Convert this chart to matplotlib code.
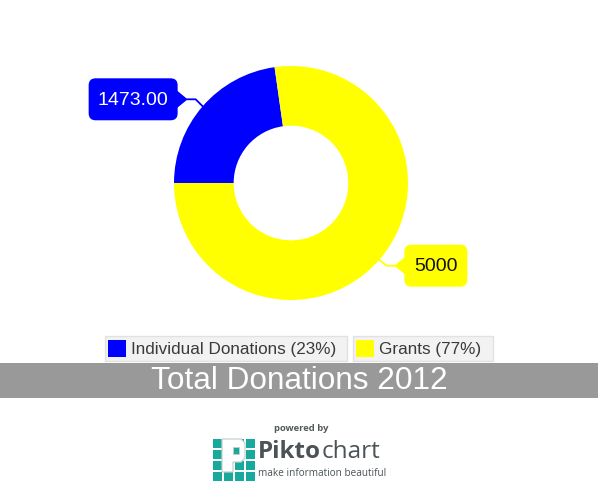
import matplotlib
matplotlib.use("Agg")
import matplotlib.pyplot as plt
from matplotlib.patches import FancyBboxPatch, Polygon, Rectangle
import numpy as np

plt.rcParams["font.family"] = ["Liberation Sans", "DejaVu Sans"]

# data
categories = ["Individual Donations", "Grants"]
values = [1473, 5000]
value_labels = ["1473.00", "5000"]
colors = ["#0000ff", "#ffff00"]
label_text_colors = ["white", "#111111"]
title = "Total Donations 2012"

W, H = 600, 490
fig = plt.figure(figsize=(W / 100, H / 100), dpi=100)
fig.patch.set_facecolor("white")

# donut, centre and radius in pixels
cx, cy, r = 291, 183, 117
pie_ax = fig.add_axes([(cx - r) / W, (H - cy - r) / H, 2 * r / W, 2 * r / H])
wedges, _ = pie_ax.pie(values, colors=colors, startangle=180, counterclock=False,
                       radius=1.0, wedgeprops=dict(width=0.51, linewidth=0))
pie_ax.set_xlim(-1, 1)
pie_ax.set_ylim(-1, 1)
pie_ax.set_aspect("equal")
pie_ax.axis("off")

# overlay in pixel coordinates
ov = fig.add_axes([0, 0, 1, 1])
ov.set_xlim(0, W)
ov.set_ylim(H, 0)
ov.axis("off")
ov.patch.set_alpha(0)


def callout(w, text, fc, tc, side):
    mid = np.deg2rad((w.theta1 + w.theta2) / 2)
    ax_x = cx + r * np.cos(mid)
    ax_y = cy - r * np.sin(mid)
    if side == "left":
        elbow = (ax_x - 7, ax_y - 7)
        tip = (elbow[0] - 8, elbow[1])
        bx, by, bw, bh = tip[0] - 99, tip[1] - 21, 89, 42
        edge = bx + bw
        tab = [(edge - 1, tip[1] - 9), tip, (edge - 1, tip[1] + 9)]
    else:
        elbow = (ax_x + 7, ax_y + 6)
        tip = (elbow[0] + 8, elbow[1])
        bx, by, bw, bh = tip[0] + 10, tip[1] - 21, 63, 42
        edge = bx
        tab = [(edge + 1, tip[1] - 9), tip, (edge + 1, tip[1] + 9)]
    ov.plot([ax_x, elbow[0], tip[0]], [ax_y, elbow[1], tip[1]], color=fc, lw=1.3,
            solid_joinstyle="miter")
    ov.add_patch(FancyBboxPatch((bx, by), bw, bh, boxstyle="round,pad=0,rounding_size=7",
                                fc=fc, ec="none"))
    ov.add_patch(Polygon(tab, closed=True, fc=fc, ec="none"))
    ov.text(bx + bw / 2, by + bh / 2 + 1, text, color=tc, fontsize=14,
            ha="center", va="center")


callout(wedges[0], value_labels[0], colors[0], label_text_colors[0], "left")
callout(wedges[1], value_labels[1], colors[1], label_text_colors[1], "right")

# legend
total = sum(values)
legend_x = [105, 353]
legend_w = [242, 140]
for i, name in enumerate(categories):
    x0 = legend_x[i]
    ov.add_patch(Rectangle((x0, 336), legend_w[i], 25, fc="#f2f2f2", ec="#e2e2e2", lw=1))
    ov.add_patch(Rectangle((x0 + 3, 340), 18, 17, fc=colors[i], ec="none"))
    pct = round(100 * values[i] / total)
    ov.text(x0 + 26, 349.5, f"{name} ({pct}%)", color="#3a3a3a", fontsize=12.3,
            ha="left", va="center")

# title bar
ov.add_patch(Rectangle((0, 363), 598, 35, fc="#999999", ec="none"))
ov.text(299, 381, title, color="white", fontsize=22.7, ha="center", va="center")

# powered by Piktochart
logo_font = ["Open Sans", "DejaVu Sans"]
ov.text(301, 428, "powered by", color="#555a5c", fontsize=6.8, fontweight="bold",
        ha="center", va="center", family=logo_font)
teal = "#17a99b"
gx, gy, pitch = 212, 438, 11
for row in range(4):
    for col in range(4):
        ov.add_patch(Rectangle((gx + col * pitch + 0.7, gy + row * pitch + 0.7),
                               pitch - 1.4, pitch - 1.4, fc=teal, ec="none"))
p_shape = [(10, 1), (29, 1), (33, 5), (33, 20), (29, 24), (21, 24), (21, 34), (10, 34)]
ov.add_patch(Polygon([(gx + px, gy + py) for px, py in p_shape], closed=True,
                     fc="white", ec="#c9cece", lw=0.9))
ov.add_patch(Rectangle((gx + 21, gy + 9), 6, 7, fc=teal, ec="#c9cece", lw=0.6))

pikto = ov.text(258, 452, "Pikto", color="#4b5357", fontsize=17.5, fontweight="bold",
                ha="left", va="center", family=logo_font)
fig.canvas.draw()
bb = pikto.get_window_extent()
ov.text(258 + bb.width + 0.5, 452, "chart", color="#4b5357", fontsize=17.5,
        ha="left", va="center", family=logo_font)
ov.text(258, 473, "make information beautiful", color="#4b5357", fontsize=7.2,
        ha="left", va="center", family=logo_font)

fig.savefig("out.png", dpi=100, facecolor="white")
